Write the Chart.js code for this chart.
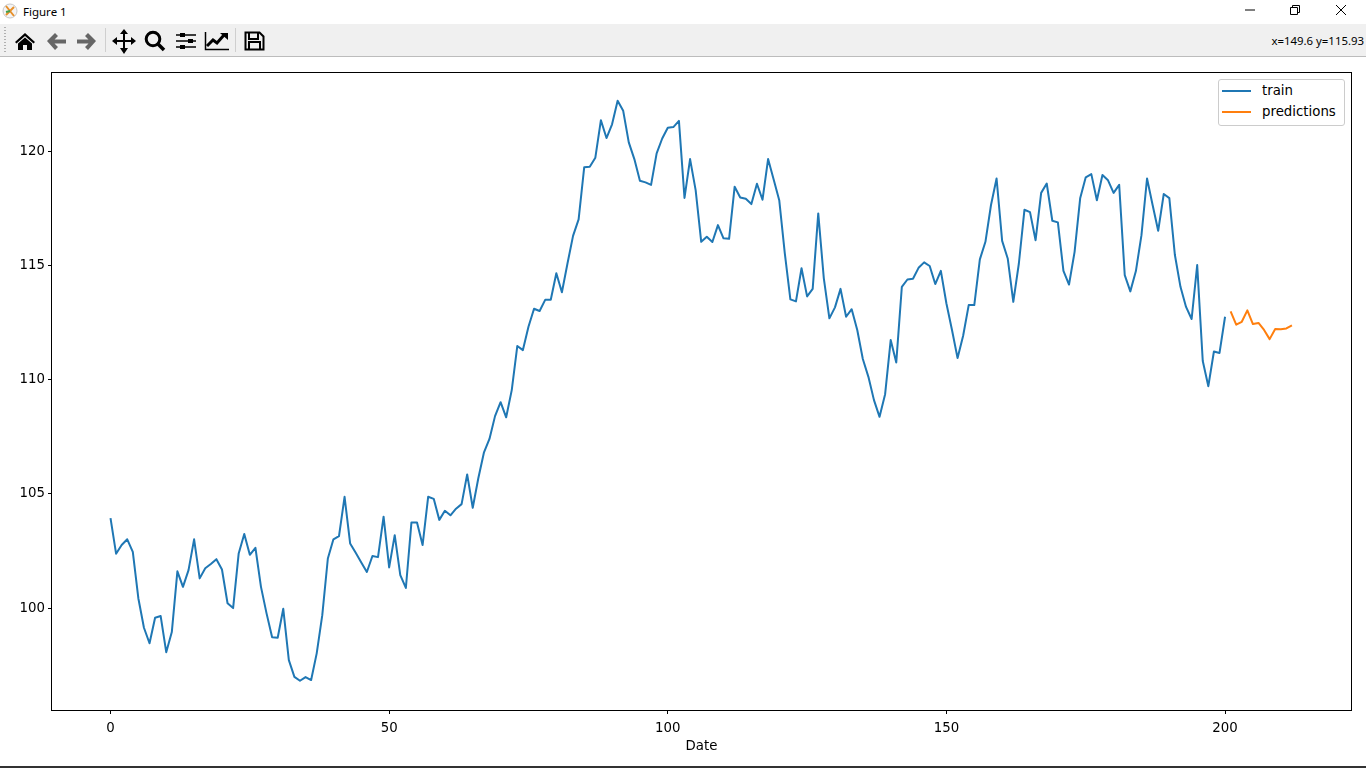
<!DOCTYPE html>
<html>
<head>
    <title>Figure 1</title>
    <script src="https://cdn.jsdelivr.net/npm/chart.js"></script>
    <style>
        html, body { margin: 0; padding: 0; background: #fff; overflow: hidden; }
        #window { position: relative; width: 1366px; height: 768px; background: #fff; }
        #titlebar { position: absolute; left: 0; top: 0; width: 1366px; height: 24px; background: #fff; }
        #titletext { position: absolute; left: 23px; top: 4px; font: 11.5px/16px "Noto Sans", sans-serif; color: #000; }
        #toolbar { position: absolute; left: 0; top: 24px; width: 1366px; height: 32px; background: #f0f0f0; border-bottom: 1px solid #bcbcbc; }
        #coords { position: absolute; right: 2px; top: 9px; font: 11.4px/16px "Noto Sans", sans-serif; color: #000; white-space: pre; }
        #chrome { position: absolute; left: 0; top: 0; }
        #plot { position: absolute; left: 0; top: 57px; }
        #legend { position: absolute; left: 1218px; top: 79px; width: 125px; height: 45px; background: #fff; border: 1px solid #ccc; border-radius: 3px; font: 13.33px/16px "DejaVu Sans", sans-serif; color: #000; }
        .entry { position: absolute; left: 0; height: 16px; }
        .entry i { position: absolute; left: 3px; top: 7px; width: 29px; height: 2px; }
        .entry span { position: absolute; left: 43px; top: 0; white-space: pre; }
        #bottomline { position: absolute; left: 0; top: 766px; width: 1366px; height: 2px; background: #333; }
    </style>
</head>
<body>
<div id="window">
    <div id="titlebar"><div id="titletext">Figure 1</div></div>
    <div id="toolbar"><div id="coords">x=149.6 y=115.93</div></div>

    <!-- window buttons and toolbar icons -->
    <svg id="chrome" width="1366" height="57">
        <circle cx="10" cy="11" r="7" fill="#f4f4f4" stroke="#c8c8c8"/>
        <path d="M6 6l8 10M14 7l-8 8" stroke="#e8902a" stroke-width="2"/>
        <path d="M10 11l-4 1" stroke="#3f9f4f" stroke-width="2"/>
        <path d="M1245 10h10" stroke="#000"/>
        <path d="M1290.5 7.5h7v7h-7zM1292.5 7.5v-2h7v7h-2" fill="none" stroke="#000"/>
        <path d="M1336 5l10 10M1346 5l-10 10" stroke="#000"/>

        <path d="M5 27v26" stroke="#b0b0b0" stroke-dasharray="1 2" stroke-width="2"/>
        <path d="M105.5 28v24M235.5 28v24" stroke="#cfcfcf"/>

        <path d="M15 42l10-9 10 9-1.5 1.5L25 36l-8.500 7.500zM18 43.500l7-6 7 6V50h-5v-5h-4v5h-5z" fill="#000"/>
        <path d="M47 41l8-8 3 3-3.500 3.500H66v4H54.500L58 47l-3 3z" fill="#666"/>
        <path d="M96 41l-8-8-3 3 3.500 3.500H77v4h11.500L85 47l3 3z" fill="#666"/>
        <path d="M124 29l4 5h-3v6h6v-3l5 4-5 4v-3h-6v6h3l-4 6-4-6h3v-6h-6v3l-5-4 5-4v3h6v-6h-3z" fill="#000"/>
        <circle cx="153" cy="39" r="6.800" fill="none" stroke="#000" stroke-width="3"/>
        <path d="M158 44l6 6" stroke="#000" stroke-width="3.500"/>
        <path d="M176 35h20M176 41h20M176 47h20" stroke="#000" stroke-width="1.500"/>
        <path d="M180 33h5v4h-5zM188 39h5v4h-5zM180 45h5v4h-5z" fill="#000"/>
        <path d="M205.500 32v17.500H229" fill="none" stroke="#000" stroke-width="1.500"/>
        <path d="M207 46l6-6 4 3 7-8" fill="none" stroke="#000" stroke-width="3"/>
        <path d="M220 33h8v7z" fill="#000"/>
        <path d="M245.500 32.500h14l4 4v13h-18zM249 33v6h9v-6M249 49v-7h11v7" fill="none" stroke="#000" stroke-width="2"/>
    </svg>

    <canvas id="plot" width="1366" height="709"></canvas>

    <div id="legend"></div>
    <div id="bottomline"></div>
</div>
<script>
    var trainValues = [
        103.94,102.38,102.76,103.01,102.46,100.42,99.14,98.46,99.58,99.65,
        98.07,98.95,101.61,100.93,101.66,103.01,101.30,101.74,101.93,102.14,
        101.69,100.21,100.00,102.39,103.24,102.33,102.64,100.93,99.77,98.72,
        98.70,99.97,97.72,96.99,96.82,96.98,96.85,98.02,99.69,102.17,
        103.01,103.15,104.87,102.83,102.42,102.00,101.58,102.28,102.23,104.00,
        101.78,103.19,101.44,100.88,103.75,103.75,102.76,104.87,104.78,103.86,
        104.26,104.06,104.35,104.55,105.85,104.39,105.68,106.80,107.40,108.40,
        109.01,108.35,109.54,111.47,111.29,112.31,113.10,113.00,113.49,113.49,
        114.65,113.82,115.08,116.29,117.01,119.29,119.31,119.71,121.35,120.57,
        121.17,122.20,121.76,120.38,119.65,118.70,118.63,118.52,119.90,120.55,
        121.02,121.05,121.32,117.95,119.65,118.29,116.03,116.25,116.02,116.76,
        116.18,116.16,118.44,117.97,117.91,117.68,118.57,117.87,119.65,118.76,
        117.85,115.52,113.51,113.42,114.87,113.64,113.97,117.27,114.43,112.68,
        113.16,113.97,112.75,113.08,112.17,110.90,110.12,109.10,108.37,109.36,
        111.73,110.75,114.06,114.38,114.41,114.89,115.13,114.97,114.18,114.76,
        113.33,112.17,110.94,111.92,113.26,113.26,115.26,116.03,117.64,118.80,
        116.07,115.30,113.40,115.08,117.43,117.33,116.10,118.17,118.58,116.95,
        116.88,114.76,114.16,115.59,117.93,118.85,118.99,117.85,118.95,118.72,
        118.17,118.52,114.57,113.86,114.75,116.32,118.80,117.64,116.51,118.12,
        117.94,115.45,114.06,113.18,112.65,115.01,110.81,109.71,111.23,111.16,
        112.75
    ];
    var predictionValues = [112.98,112.40,112.53,113.03,112.43,112.48,112.17,111.77,112.21,112.20,112.24,112.37];
    var predictionStart = 201;

    var seriesNames = ['train', 'predictions'];
    var seriesColors = ['#1f77b4', '#ff7f0e'];
    var xTicks = [0, 50, 100, 150, 200];
    var yTicks = [100, 105, 110, 115, 120];
    var xLabel = 'Date';

    var tickFont = { family: '"DejaVu Sans"', size: 13.33 };

    // frame around the plot, like the matplotlib spines
    var framePlugin = {
        id: 'frame',
        afterDraw: function (chart) {
            var a = chart.chartArea;
            var c = chart.ctx;
            c.save();
            c.strokeStyle = '#000';
            c.lineWidth = 1;
            c.strokeRect(Math.round(a.left) - 0.5, Math.round(a.top) + 0.5, Math.round(a.right - a.left) + 1, Math.round(a.bottom - a.top));
            c.restore();
        }
    };

    var chart = new Chart(document.getElementById('plot').getContext('2d'), {
        type: 'line',
        data: {
            datasets: [{
                label: seriesNames[0],
                borderColor: seriesColors[0],
                backgroundColor: seriesColors[0],
                data: trainValues.map(function (v, i) { return { x: i, y: v }; })
            }, {
                label: seriesNames[1],
                borderColor: seriesColors[1],
                backgroundColor: seriesColors[1],
                data: predictionValues.map(function (v, i) { return { x: predictionStart + i, y: v }; })
            }]
        },
        options: {
            responsive: false,
            animation: false,
            parsing: false,
            layout: { padding: { left: 0, right: 15, top: 15, bottom: 0 } },
            elements: {
                point: { radius: 0 },
                line: { borderWidth: 2, tension: 0, borderJoinStyle: 'round' }
            },
            plugins: { legend: { display: false }, tooltip: { enabled: false } },
            scales: {
                x: {
                    type: 'linear',
                    min: -10.5,
                    max: 222.6,
                    afterBuildTicks: function (axis) { axis.ticks = xTicks.map(function (v) { return { value: v }; }); },
                    afterFit: function (axis) { axis.height = 56; },
                    grid: { drawOnChartArea: false, drawTicks: true, tickLength: 4, tickColor: '#000' },
                    border: { display: false },
                    ticks: { font: tickFont, color: '#000', padding: 7, maxRotation: 0, autoSkip: false },
                    title: { display: true, text: xLabel, font: tickFont, color: '#000', padding: { top: 4, bottom: 11 } }
                },
                y: {
                    min: 95.54,
                    max: 123.46,
                    afterBuildTicks: function (axis) { axis.ticks = yTicks.map(function (v) { return { value: v }; }); },
                    afterFit: function (axis) { axis.width = 52; },
                    grid: { drawOnChartArea: false, drawTicks: true, tickLength: 4, tickColor: '#000' },
                    border: { display: false },
                    ticks: { font: tickFont, color: '#000', padding: 3, autoSkip: false }
                }
            }
        },
        plugins: [framePlugin]
    });

    // legend box, drawn from the same names and colours as the chart
    var legend = document.getElementById('legend');
    seriesNames.forEach(function (name, i) {
        var row = document.createElement('div');
        row.className = 'entry';
        row.style.top = (3 + i * 21) + 'px';
        row.innerHTML = '<i style="background:' + seriesColors[i] + '"></i><span>' + name + '</span>';
        legend.appendChild(row);
    });
</script>
</body>
</html>
